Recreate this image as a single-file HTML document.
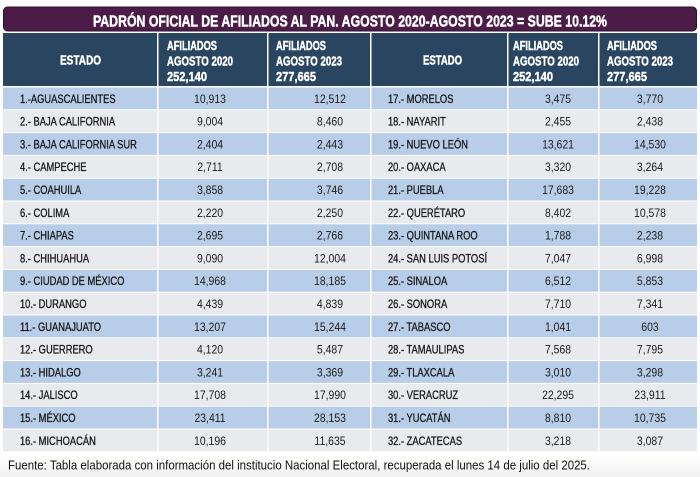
<!DOCTYPE html>
<html><head><meta charset="utf-8"><style>
html,body{margin:0;padding:0;background:#fff;}
svg{display:block;}
</style></head><body>
<svg width="700" height="477" viewBox="0 0 700 477" xmlns="http://www.w3.org/2000/svg" font-family="'Liberation Sans', sans-serif">
<defs><linearGradient id="bg" x1="0" y1="0" x2="0" y2="1"><stop offset="0" stop-color="#ffffff"/><stop offset="1" stop-color="#f1f1f1"/></linearGradient></defs>
<rect x="0" y="0" width="700" height="477" fill="#fff"/>
<rect x="0" y="455" width="700" height="22" fill="url(#bg)"/>
<!-- title -->
<rect x="3.5" y="7" width="693" height="24" rx="4" fill="#4c1c48" stroke="#2e1029" stroke-width="1"/>
<text x="93" y="26.5" font-size="16" font-weight="bold" fill="#fff" stroke="#fff" stroke-width="0.5" textLength="514" lengthAdjust="spacingAndGlyphs">PADRÓN OFICIAL DE AFILIADOS AL PAN.  AGOSTO 2020-AGOSTO 2023 = SUBE 10.12%</text>
<!-- header -->
<g fill="#2a4560">
<rect x="3" y="33" width="154" height="53"/>
<rect x="158.5" y="33" width="108.5" height="53"/>
<rect x="268.5" y="33" width="101.5" height="53"/>
<rect x="371.5" y="33" width="135.5" height="53"/>
<rect x="508.5" y="33" width="89.5" height="53"/>
<rect x="599.5" y="33" width="97.5" height="53"/>
</g>
<g font-size="13" font-weight="bold" fill="#fff" stroke="#fff" stroke-width="0.45">
<text x="60" y="64.5" textLength="41" lengthAdjust="spacingAndGlyphs">ESTADO</text>
<text x="423" y="64.5" textLength="39" lengthAdjust="spacingAndGlyphs">ESTADO</text>
<text x="167" y="50" textLength="50" lengthAdjust="spacingAndGlyphs">AFILIADOS</text>
<text x="167" y="65.5" textLength="66" lengthAdjust="spacingAndGlyphs">AGOSTO 2020</text>
<text x="167" y="81" textLength="40" lengthAdjust="spacingAndGlyphs">252,140</text>
<text x="276" y="50" textLength="50" lengthAdjust="spacingAndGlyphs">AFILIADOS</text>
<text x="276" y="65.5" textLength="66" lengthAdjust="spacingAndGlyphs">AGOSTO 2023</text>
<text x="276" y="81" textLength="40" lengthAdjust="spacingAndGlyphs">277,665</text>
<text x="513" y="50" textLength="50" lengthAdjust="spacingAndGlyphs">AFILIADOS</text>
<text x="513" y="65.5" textLength="66" lengthAdjust="spacingAndGlyphs">AGOSTO 2020</text>
<text x="513" y="81" textLength="40" lengthAdjust="spacingAndGlyphs">252,140</text>
<text x="607" y="50" textLength="50" lengthAdjust="spacingAndGlyphs">AFILIADOS</text>
<text x="607" y="65.5" textLength="66" lengthAdjust="spacingAndGlyphs">AGOSTO 2023</text>
<text x="607" y="81" textLength="40" lengthAdjust="spacingAndGlyphs">277,665</text>
</g>
<!-- rows -->
<g>
<rect x="3" y="87.5" width="694" height="21.8" fill="#b8cee8"/>
<rect x="3" y="110.3" width="694" height="21.8" fill="#e8eaed"/>
<rect x="3" y="133.1" width="694" height="21.8" fill="#b8cee8"/>
<rect x="3" y="155.9" width="694" height="21.8" fill="#e8eaed"/>
<rect x="3" y="178.7" width="694" height="21.8" fill="#b8cee8"/>
<rect x="3" y="201.5" width="694" height="21.8" fill="#e8eaed"/>
<rect x="3" y="224.3" width="694" height="21.8" fill="#b8cee8"/>
<rect x="3" y="247.1" width="694" height="21.8" fill="#e8eaed"/>
<rect x="3" y="269.9" width="694" height="21.8" fill="#b8cee8"/>
<rect x="3" y="292.7" width="694" height="21.8" fill="#e8eaed"/>
<rect x="3" y="315.5" width="694" height="21.8" fill="#b8cee8"/>
<rect x="3" y="338.3" width="694" height="21.8" fill="#e8eaed"/>
<rect x="3" y="361.1" width="694" height="21.8" fill="#b8cee8"/>
<rect x="3" y="383.9" width="694" height="21.8" fill="#e8eaed"/>
<rect x="3" y="406.7" width="694" height="21.8" fill="#b8cee8"/>
<rect x="3" y="429.5" width="694" height="21.8" fill="#e8eaed"/>
</g>
<g fill="#fff">
<rect x="157" y="87" width="1.5" height="366"/>
<rect x="267" y="87" width="1.5" height="366"/>
<rect x="370" y="87" width="1.5" height="366"/>
<rect x="507" y="87" width="1.5" height="366"/>
<rect x="598" y="87" width="1.5" height="366"/>
</g>
<!-- names -->
<g transform="scale(0.78,1)" font-size="12" fill="#151515" stroke="#151515" stroke-width="0.3">
<text x="25.6" y="102.8">1.-AGUASCALIENTES</text>
<text x="25.6" y="125.6">2.- BAJA CALIFORNIA</text>
<text x="25.6" y="148.4">3.- BAJA CALIFORNIA SUR</text>
<text x="25.6" y="171.2">4.- CAMPECHE</text>
<text x="25.6" y="194">5.- COAHUILA</text>
<text x="25.6" y="216.8">6.- COLIMA</text>
<text x="25.6" y="239.6">7.- CHIAPAS</text>
<text x="25.6" y="262.4">8.- CHIHUAHUA</text>
<text x="25.6" y="285.2">9.- CIUDAD DE MÉXICO</text>
<text x="25.6" y="308">10.- DURANGO</text>
<text x="25.6" y="330.8">11.- GUANAJUATO</text>
<text x="25.6" y="353.6">12.- GUERRERO</text>
<text x="25.6" y="376.4">13.- HIDALGO</text>
<text x="25.6" y="399.2">14.- JALISCO</text>
<text x="25.6" y="422">15.- MÉXICO</text>
<text x="25.6" y="444.8">16.- MICHOACÁN</text>
<text x="497.4" y="102.8">17.- MORELOS</text>
<text x="497.4" y="125.6">18.- NAYARIT</text>
<text x="497.4" y="148.4">19.- NUEVO LEÓN</text>
<text x="497.4" y="171.2">20.- OAXACA</text>
<text x="497.4" y="194">21.- PUEBLA</text>
<text x="497.4" y="216.8">22.- QUERÉTARO</text>
<text x="497.4" y="239.6">23.- QUINTANA ROO</text>
<text x="497.4" y="262.4">24.- SAN LUIS POTOSÍ</text>
<text x="497.4" y="285.2">25.- SINALOA</text>
<text x="497.4" y="308">26.- SONORA</text>
<text x="497.4" y="330.8">27.- TABASCO</text>
<text x="497.4" y="353.6">28.- TAMAULIPAS</text>
<text x="497.4" y="376.4">29.- TLAXCALA</text>
<text x="497.4" y="399.2">30.- VERACRUZ</text>
<text x="497.4" y="422">31.- YUCATÁN</text>
<text x="497.4" y="444.8">32.- ZACATECAS</text>
</g>
<!-- numbers -->
<g transform="scale(0.87,1)" font-size="12" fill="#1a1a1a" text-anchor="middle">
<text x="241.4" y="102.8">10,913</text><text x="379.3" y="102.8">12,512</text><text x="641.4" y="102.8">3,475</text><text x="747.1" y="102.8">3,770</text>
<text x="241.4" y="125.6">9,004</text><text x="379.3" y="125.6">8,460</text><text x="641.4" y="125.6">2,455</text><text x="747.1" y="125.6">2,438</text>
<text x="241.4" y="148.4">2,404</text><text x="379.3" y="148.4">2,443</text><text x="641.4" y="148.4">13,621</text><text x="747.1" y="148.4">14,530</text>
<text x="241.4" y="171.2">2,711</text><text x="379.3" y="171.2">2,708</text><text x="641.4" y="171.2">3,320</text><text x="747.1" y="171.2">3,264</text>
<text x="241.4" y="194">3,858</text><text x="379.3" y="194">3,746</text><text x="641.4" y="194">17,683</text><text x="747.1" y="194">19,228</text>
<text x="241.4" y="216.8">2,220</text><text x="379.3" y="216.8">2,250</text><text x="641.4" y="216.8">8,402</text><text x="747.1" y="216.8">10,578</text>
<text x="241.4" y="239.6">2,695</text><text x="379.3" y="239.6">2,766</text><text x="641.4" y="239.6">1,788</text><text x="747.1" y="239.6">2,238</text>
<text x="241.4" y="262.4">9,090</text><text x="379.3" y="262.4">12,004</text><text x="641.4" y="262.4">7,047</text><text x="747.1" y="262.4">6,998</text>
<text x="241.4" y="285.2">14,968</text><text x="379.3" y="285.2">18,185</text><text x="641.4" y="285.2">6,512</text><text x="747.1" y="285.2">5,853</text>
<text x="241.4" y="308">4,439</text><text x="379.3" y="308">4,839</text><text x="641.4" y="308">7,710</text><text x="747.1" y="308">7,341</text>
<text x="241.4" y="330.8">13,207</text><text x="379.3" y="330.8">15,244</text><text x="641.4" y="330.8">1,041</text><text x="747.1" y="330.8">603</text>
<text x="241.4" y="353.6">4,120</text><text x="379.3" y="353.6">5,487</text><text x="641.4" y="353.6">7,568</text><text x="747.1" y="353.6">7,795</text>
<text x="241.4" y="376.4">3,241</text><text x="379.3" y="376.4">3,369</text><text x="641.4" y="376.4">3,010</text><text x="747.1" y="376.4">3,298</text>
<text x="241.4" y="399.2">17,708</text><text x="379.3" y="399.2">17,990</text><text x="641.4" y="399.2">22,295</text><text x="747.1" y="399.2">23,911</text>
<text x="241.4" y="422">23,411</text><text x="379.3" y="422">28,153</text><text x="641.4" y="422">8,810</text><text x="747.1" y="422">10,735</text>
<text x="241.4" y="444.8">10,196</text><text x="379.3" y="444.8">11,635</text><text x="641.4" y="444.8">3,218</text><text x="747.1" y="444.8">3,087</text>
</g>
<!-- footer -->
<text x="8" y="469.5" font-size="13" fill="#111" textLength="582" lengthAdjust="spacingAndGlyphs">Fuente: Tabla elaborada con información del institucio Nacional Electoral, recuperada el lunes 14 de julio del 2025.</text>
</svg>
</body></html>
